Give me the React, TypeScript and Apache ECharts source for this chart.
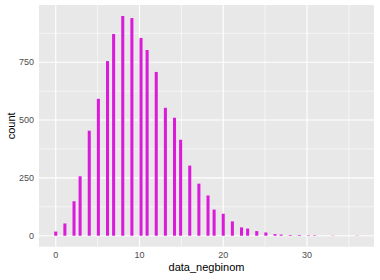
import React, { useEffect, useRef } from "react";
import * as echarts from "echarts";

// Observed values of data_negbinom and their counts
const values = [0, 1, 2, 3, 4, 5, 6, 7, 8, 9, 10, 11, 12, 13, 14, 15, 16, 17, 18, 19, 20, 21, 22, 23, 24, 25, 26, 27, 28, 29, 30, 31, 33, 36];
const counts = [18, 53, 149, 257, 454, 592, 755, 872, 950, 941, 855, 803, 708, 553, 510, 415, 303, 225, 174, 113, 95, 62, 36, 31, 20, 14, 7, 5, 3, 3, 2, 2, 1, 1];

const xTicks = [0, 10, 20, 30];
const xMinor = [5, 15, 25, 35];
const yTicks = [0, 250, 500, 750];
const yMinor = [125, 375, 625, 875];

const BINS = 100;

export default function App() {
  const ref = useRef<HTMLDivElement>(null);
  useEffect(() => {
    if (!ref.current) return;
    const chart = echarts.init(ref.current, null, { renderer: "svg" });
    const vmin = Math.min(...values);
    const vmax = Math.max(...values);
    const bw = (vmax - vmin) / (BINS - 1);
    const binned = values.map((v, i) => {
      const c = vmin + Math.round((v - vmin) / bw) * bw;
      return [c - bw / 2, c + bw / 2, counts[i]];
    });
    const xlo = vmin - bw / 2;
    const xhi = vmax + bw / 2;
    const xexp = (xhi - xlo) * 0.05;
    const ymax = Math.max(...counts);
    const yexp = ymax * 0.05;
    const font = "Liberation Sans, Arial, sans-serif";
    const textStyle = { color: "#4D4D4D", fontSize: 9, fontFamily: font };
    // [value, axis (0 = x, 1 = y), major (1) / minor (0)]
    const gridData = [
      ...xMinor.map((v) => [v, 0, 0]),
      ...yMinor.map((v) => [v, 1, 0]),
      ...xTicks.map((v) => [v, 0, 1]),
      ...yTicks.map((v) => [v, 1, 1]),
    ];
    chart.setOption({
      animation: false,
      grid: {
        left: 39, top: 5, width: 335, height: 241.7,
        show: false,
        outerBoundsMode: "none", containLabel: false,
      },
      xAxis: {
        type: "value",
        min: xlo - xexp,
        max: xhi + xexp,
        axisLine: { show: false },
        axisTick: { show: true, length: 3, lineStyle: { color: "#333333", width: 1 }, customValues: xTicks },
        axisLabel: { ...textStyle, margin: 4, customValues: xTicks },
        splitLine: { show: false },
        name: "data_negbinom",
        nameLocation: "middle",
        nameGap: 15,
        nameMoveOverlap: false,
        nameTextStyle: { color: "#000000", fontSize: 11, fontFamily: font },
      },
      yAxis: {
        type: "value",
        min: -yexp,
        max: ymax + yexp,
        axisLine: { show: false },
        axisTick: { show: true, length: 3, lineStyle: { color: "#333333", width: 1 }, customValues: yTicks },
        axisLabel: { ...textStyle, margin: 5, customValues: yTicks },
        splitLine: { show: false },
        name: "count",
        nameLocation: "middle",
        nameRotate: 90,
        nameGap: 23,
        nameMoveOverlap: false,
        nameTextStyle: { color: "#000000", fontSize: 11, fontFamily: font },
      },
      series: [
        {
          type: "custom",
          data: [[0, 0]],
          z: 2,
          silent: true,
          renderItem: (params: any) => {
            const cs = params.coordSys;
            return {
              type: "rect",
              shape: { x: cs.x, y: cs.y, width: cs.width, height: cs.height },
              style: { fill: "#E8E8E8" },
            };
          },
        },
        {
          type: "custom",
          data: gridData,
          z: 5,
          silent: true,
          renderItem: (params: any, api: any) => {
            const cs = params.coordSys;
            const v = api.value(0);
            const isY = api.value(1) === 1;
            const w = api.value(2) === 1 ? 1.1 : 0.6;
            let shape;
            if (isY) {
              const y = api.coord([0, v])[1];
              shape = { x1: cs.x, y1: y, x2: cs.x + cs.width, y2: y };
            } else {
              const x = api.coord([v, 0])[0];
              shape = { x1: x, y1: cs.y, x2: x, y2: cs.y + cs.height };
            }
            return { type: "line", shape, style: { stroke: "#FFFFFF", lineWidth: w, fill: null } };
          },
        },
        {
          type: "custom",
          data: binned,
          z: 10,
          renderItem: (params: any, api: any) => {
            const p0 = api.coord([api.value(0), 0]);
            const p1 = api.coord([api.value(1), api.value(2)]);
            return {
              type: "rect",
              shape: { x: p0[0], y: p1[1], width: p1[0] - p0[0], height: p0[1] - p1[1] },
              style: { fill: "#DA1CDA" },
            };
          },
        },
      ],
    });
    return () => chart.dispose();
  }, []);
  return <div ref={ref} style={{ width: 380, height: 280, position: "absolute", left: 0, top: 0, background: "#FFFFFF" }} />;
}
